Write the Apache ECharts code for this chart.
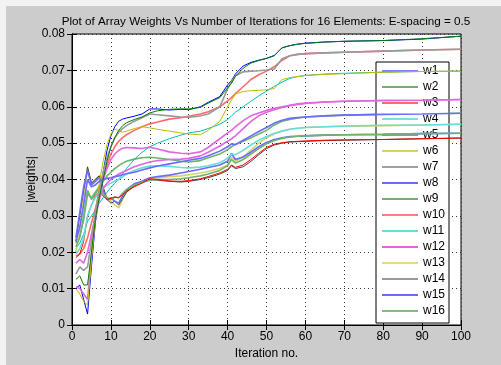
<!DOCTYPE html>
<html>
<head>
<meta charset="utf-8">
<script src="https://cdn.jsdelivr.net/npm/echarts@6/dist/echarts.min.js"></script>
<style>
html,body{margin:0;padding:0;background:#f2f2f2;}
#c{width:501px;height:365px;}
</style>
</head>
<body>
<div id="c"></div>
<script>
// Iteration numbers at which values were read
const iterations = [1,2,3,4,5,6,7,8,9,10,11,12,13,14,16,18,20,22,25,28,30,33,35,38,40,41,42,44,46,48,50,52,54,56,58,60,65,70,80,90,100];

const xTicks = [0,10,20,30,40,50,60,70,80,90,100];
const yTicks = [0,0.01,0.02,0.03,0.04,0.05,0.06,0.07,0.08];
const seriesNames = ['w1','w2','w3','w4','w5','w6','w7','w8','w9','w10','w11','w12','w13','w14','w15','w16'];

const w1  = [0.0100,0.0110,0.0070,0.0030,0.0160,0.0280,0.0360,0.0420,0.0480,0.0520,0.0545,0.0560,0.0566,0.0569,0.0574,0.0580,0.0594,0.0594,0.0591,0.0593,0.0592,0.0600,0.0612,0.0628,0.0660,0.0672,0.0690,0.0712,0.0722,0.0728,0.0733,0.0741,0.0762,0.0768,0.0772,0.0775,0.0778,0.0780,0.0782,0.0786,0.0794];
const w2  = [0.0225,0.0245,0.0290,0.0360,0.0350,0.0365,0.0380,0.0395,0.0410,0.0420,0.0430,0.0438,0.0445,0.0450,0.0456,0.0460,0.0461,0.0459,0.0455,0.0450,0.0448,0.0452,0.0460,0.0470,0.0482,0.0490,0.0496,0.0505,0.0515,0.0525,0.0535,0.0550,0.0560,0.0565,0.0569,0.0572,0.0575,0.0577,0.0579,0.0580,0.0582];
const w3  = [0.0190,0.0195,0.0210,0.0240,0.0280,0.0320,0.0360,0.0400,0.0440,0.0470,0.0490,0.0505,0.0515,0.0523,0.0535,0.0545,0.0553,0.0558,0.0566,0.0570,0.0574,0.0580,0.0586,0.0600,0.0616,0.0625,0.0636,0.0655,0.0675,0.0688,0.0698,0.0710,0.0728,0.0740,0.0744,0.0746,0.0748,0.0750,0.0753,0.0756,0.0758];
const w4  = [0.0210,0.0225,0.0250,0.0285,0.0300,0.0315,0.0335,0.0350,0.0365,0.0378,0.0390,0.0400,0.0415,0.0430,0.0455,0.0475,0.0490,0.0500,0.0512,0.0522,0.0528,0.0533,0.0540,0.0552,0.0565,0.0575,0.0585,0.0600,0.0615,0.0630,0.0643,0.0656,0.0668,0.0678,0.0683,0.0686,0.0690,0.0692,0.0695,0.0697,0.0698];
const w5  = [0.0170,0.0180,0.0170,0.0200,0.0250,0.0300,0.0350,0.0400,0.0430,0.0455,0.0470,0.0480,0.0486,0.0488,0.0487,0.0485,0.0489,0.0484,0.0476,0.0472,0.0471,0.0476,0.0488,0.0512,0.0528,0.0535,0.0545,0.0562,0.0575,0.0583,0.0590,0.0596,0.0600,0.0604,0.0608,0.0610,0.0613,0.0615,0.0617,0.0618,0.0620];
const w6  = [0.0200,0.0260,0.0350,0.0430,0.0390,0.0400,0.0410,0.0375,0.0350,0.0340,0.0330,0.0322,0.0345,0.0365,0.0385,0.0395,0.0402,0.0405,0.0408,0.0410,0.0413,0.0418,0.0422,0.0430,0.0440,0.0462,0.0450,0.0462,0.0480,0.0500,0.0515,0.0525,0.0533,0.0538,0.0541,0.0543,0.0545,0.0546,0.0548,0.0550,0.0552];
const w7  = [0.0230,0.0300,0.0370,0.0435,0.0390,0.0400,0.0410,0.0380,0.0345,0.0335,0.0340,0.0330,0.0348,0.0365,0.0382,0.0392,0.0400,0.0398,0.0395,0.0393,0.0395,0.0400,0.0405,0.0415,0.0425,0.0438,0.0430,0.0435,0.0450,0.0468,0.0485,0.0495,0.0500,0.0503,0.0504,0.0505,0.0507,0.0508,0.0510,0.0512,0.0514];
const w8  = [0.0240,0.0310,0.0380,0.0425,0.0385,0.0395,0.0405,0.0370,0.0345,0.0350,0.0340,0.0335,0.0355,0.0372,0.0388,0.0395,0.0405,0.0408,0.0412,0.0418,0.0422,0.0428,0.0433,0.0440,0.0450,0.0472,0.0455,0.0462,0.0475,0.0490,0.0502,0.0510,0.0515,0.0518,0.0519,0.0520,0.0522,0.0523,0.0524,0.0526,0.0527];
const w9  = [0.0215,0.0240,0.0300,0.0370,0.0345,0.0360,0.0375,0.0360,0.0350,0.0345,0.0352,0.0350,0.0362,0.0372,0.0385,0.0392,0.0398,0.0400,0.0400,0.0402,0.0405,0.0410,0.0415,0.0425,0.0438,0.0455,0.0445,0.0455,0.0470,0.0485,0.0498,0.0507,0.0513,0.0517,0.0519,0.0520,0.0522,0.0523,0.0524,0.0526,0.0527];
const w10 = [0.0185,0.0195,0.0230,0.0300,0.0330,0.0355,0.0365,0.0355,0.0345,0.0348,0.0352,0.0350,0.0358,0.0368,0.0380,0.0390,0.0402,0.0400,0.0396,0.0395,0.0397,0.0402,0.0408,0.0418,0.0428,0.0440,0.0433,0.0440,0.0455,0.0472,0.0488,0.0497,0.0501,0.0504,0.0505,0.0506,0.0508,0.0509,0.0510,0.0512,0.0514];
const w11 = [0.0195,0.0210,0.0240,0.0300,0.0330,0.0350,0.0365,0.0378,0.0385,0.0390,0.0395,0.0400,0.0408,0.0415,0.0425,0.0432,0.0437,0.0438,0.0436,0.0433,0.0432,0.0434,0.0438,0.0446,0.0458,0.0470,0.0468,0.0480,0.0495,0.0508,0.0518,0.0527,0.0533,0.0538,0.0541,0.0543,0.0545,0.0547,0.0549,0.0550,0.0552];
const w12 = [0.0105,0.0100,0.0085,0.0070,0.0190,0.0290,0.0345,0.0375,0.0390,0.0400,0.0408,0.0415,0.0420,0.0425,0.0435,0.0442,0.0448,0.0452,0.0455,0.0456,0.0458,0.0465,0.0475,0.0492,0.0505,0.0512,0.0520,0.0540,0.0560,0.0575,0.0585,0.0592,0.0598,0.0603,0.0606,0.0609,0.0613,0.0615,0.0617,0.0618,0.0620];
const w13 = [0.0100,0.0085,0.0065,0.0055,0.0180,0.0300,0.0390,0.0450,0.0495,0.0525,0.0538,0.0535,0.0530,0.0533,0.0540,0.0545,0.0542,0.0538,0.0533,0.0528,0.0525,0.0523,0.0535,0.0560,0.0600,0.0618,0.0635,0.0642,0.0644,0.0645,0.0647,0.0650,0.0675,0.0680,0.0683,0.0686,0.0689,0.0691,0.0695,0.0697,0.0698];
const w14 = [0.0140,0.0160,0.0150,0.0160,0.0230,0.0310,0.0370,0.0420,0.0460,0.0490,0.0515,0.0530,0.0540,0.0548,0.0560,0.0570,0.0580,0.0578,0.0575,0.0572,0.0571,0.0575,0.0580,0.0600,0.0650,0.0668,0.0685,0.0696,0.0698,0.0699,0.0701,0.0704,0.0732,0.0740,0.0744,0.0746,0.0748,0.0750,0.0753,0.0756,0.0758];
const w15 = [0.0230,0.0270,0.0330,0.0400,0.0380,0.0385,0.0395,0.0400,0.0403,0.0405,0.0408,0.0410,0.0413,0.0416,0.0420,0.0426,0.0432,0.0437,0.0443,0.0449,0.0453,0.0458,0.0465,0.0478,0.0490,0.0498,0.0496,0.0508,0.0520,0.0532,0.0543,0.0555,0.0563,0.0568,0.0570,0.0572,0.0575,0.0577,0.0579,0.0580,0.0582];
const w16 = [0.0125,0.0135,0.0110,0.0110,0.0200,0.0290,0.0350,0.0400,0.0450,0.0490,0.0515,0.0535,0.0548,0.0556,0.0565,0.0572,0.0583,0.0589,0.0593,0.0594,0.0594,0.0598,0.0610,0.0625,0.0652,0.0665,0.0683,0.0706,0.0720,0.0727,0.0733,0.0740,0.0762,0.0768,0.0772,0.0774,0.0778,0.0780,0.0782,0.0787,0.0794];

const allValues = [w1,w2,w3,w4,w5,w6,w7,w8,w9,w10,w11,w12,w13,w14,w15,w16];
const colors = ['#0000ff','#6db36d','#ff6b6b','#00bfbf','#e066e0','#d4d466','#404040','#6b6bff','#6db36d','#ff0000','#66dede','#e066e0','#bfbf00','#9a9a9a','#6b6bff','#008000'];
const widths = [1,1.6,1.6,1,1.6,1.6,1,1.6,1.6,1,1.6,1.6,1,1.6,1.6,1];

const FONT = '"Liberation Sans", Arial, Helvetica, sans-serif';
const chart = echarts.init(document.getElementById('c'), null, {renderer:'canvas'});

const series = allValues.map((vals, k) => ({
  name: seriesNames[k],
  type: 'line',
  xAxisIndex: 0, yAxisIndex: 0,
  data: iterations.map((x, i) => [x, vals[i]]),
  symbol: 'none',
  showSymbol: false,
  lineStyle: {color: colors[k], width: widths[k]},
  itemStyle: {color: colors[k]},
  emphasis: {disabled: true},
  z: 2 + k
}));

const legendData = seriesNames.map((n, k) => ({
  name: n,
  icon: widths[k] > 1 ? 'path://M0,0H36V2H0Z' : 'path://M0,0H36V1H0Z',
  itemStyle: {color: colors[k]}
}));

const option = {
  animation: false,
  backgroundColor: 'transparent',
  graphic: [
    {type:'rect', z:-100, shape:{x:6,y:6,width:495,height:359}, style:{fill:'#cccccc'}},
    {type:'text', z:10, style:{text:'Plot of Array Weights Vs Number of Iterations for 16 Elements: E-spacing = 0.5', x:266, y:22, align:'center', verticalAlign:'middle', font:'11.7px ' + FONT, fill:'#000'}}
  ],
  grid: {left:72, right:40, top:34, bottom:40, show:true, backgroundColor:'#ffffff', borderColor:'#000', borderWidth:1},
  legend: {
    orient:'vertical', left:376, top:62,
    data: legendData,
    backgroundColor:'#ffffff', borderColor:'#000', borderWidth:1,
    padding:[3,4,6,6],
    itemWidth:36, itemHeight:12, itemGap:4,
    symbolKeepAspect: true,
    textStyle:{fontFamily:FONT, fontSize:12, color:'#000'},
    selectedMode:false
  },
  xAxis: [
    {type:'value', min:xTicks[0], max:xTicks[xTicks.length-1], interval:10, position:'bottom',
     name:'Iteration no.', nameLocation:'middle', nameGap:21,
     nameTextStyle:{fontFamily:FONT, fontSize:12, color:'#000'},
     axisLine:{show:true, lineStyle:{color:'#000', width:1}},
     axisTick:{show:true, inside:true, length:5, lineStyle:{color:'#000'}},
     axisLabel:{fontFamily:FONT, fontSize:12, color:'#000', margin:6},
     splitLine:{show:true, lineStyle:{color:'#333', type:[1,3], width:1}}},
    {type:'value', min:0, max:100, interval:10, position:'top',
     axisLine:{show:true, lineStyle:{color:'#000'}},
     axisTick:{show:true, inside:true, length:5, lineStyle:{color:'#000'}},
     axisLabel:{show:false}, splitLine:{show:false}}
  ],
  yAxis: [
    {type:'value', min:yTicks[0], max:yTicks[yTicks.length-1], interval:0.01, position:'left',
     name:'|weights|', nameLocation:'middle', nameGap:34, nameRotate:90, nameMoveOverlap:false,
     nameTextStyle:{fontFamily:FONT, fontSize:12, color:'#000'},
     axisLine:{show:true, lineStyle:{color:'#000'}},
     axisTick:{show:true, inside:true, length:5, lineStyle:{color:'#000'}},
     axisLabel:{fontFamily:FONT, fontSize:12, color:'#000', margin:7, formatter:(v)=> (v===0?'0':(+v.toFixed(2)).toString())},
     splitLine:{show:true, lineStyle:{color:'#333', type:[1,3], width:1}}},
    {type:'value', min:0, max:0.08, interval:0.01, position:'right',
     axisLine:{show:true, lineStyle:{color:'#000'}},
     axisTick:{show:true, inside:true, length:5, lineStyle:{color:'#000'}},
     axisLabel:{show:false}, splitLine:{show:false}}
  ],
  series: series
};
chart.setOption(option);
</script>
</body>
</html>
